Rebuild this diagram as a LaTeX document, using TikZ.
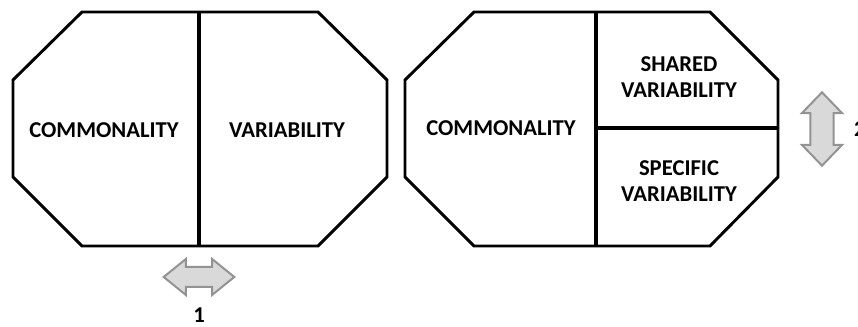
\documentclass[tikz,border=0pt]{standalone}
\usepackage{fontspec}
\setmainfont{Carlito}
\usetikzlibrary{shapes.arrows,positioning}
\colorlet{fleche}{gray!30}
\tikzset{
  octo/.style={line width=2.2pt,line join=miter},
  sep/.style={line width=2.6pt},
  lbl/.style={font=\bfseries\fontsize{17}{20}\selectfont,align=center},
  dbl/.style={double arrow,fill=fleche,draw=gray!85,line width=1.5pt}
}

\begin{document}
\begin{tikzpicture}[x=0.75pt,y=0.75pt]%
\useasboundingbox (0,0) rectangle (858,327);%%
%%OCTOGONES
\draw[octo] (82,315)--(318,315)--(387,247)--(387,150)--(318,81)--(82,81)--(13,150)--(13,247)--cycle;%%
\draw[sep] (199,315)--(199,81);%%
\draw[octo] (474,315)--(710,315)--(778,247)--(778,150)--(710,81)--(474,81)--(405,150)--(405,247)--cycle;%%
\draw[sep] (596,315)--(596,81);%%
\draw[sep] (596,199)--(778,199);%%
%%TEXTE
\node[lbl] (c1) at (104,197) {COMMONALITY};%%
\node[lbl] (v1) at (287,197) {VARIABILITY};%%
\node[lbl] (c2) at (501,199) {COMMONALITY};%%
\node[lbl] (sv) at (679,250) {SHARED\\VARIABILITY};%%
\node[lbl] (pv) at (679,146) {SPECIFIC\\VARIABILITY};%%
%%FLECHES
\node[dbl,inner sep=6.75pt,minimum height=53pt,double arrow head extend=6pt,double arrow tip angle=78] (h) at (199,50) {};%%
\node[dbl,shape border rotate=90,inner sep=7.9pt,minimum height=55pt,double arrow head extend=6.4pt,double arrow tip angle=88] (v) at (822,198) {};%%
\node[lbl,below=15pt of h,inner sep=0pt] (n1) {1};%%
\node[lbl,right=14.5pt of v,inner sep=0pt] (n2) {2};%%
\end{tikzpicture}
\end{document}
